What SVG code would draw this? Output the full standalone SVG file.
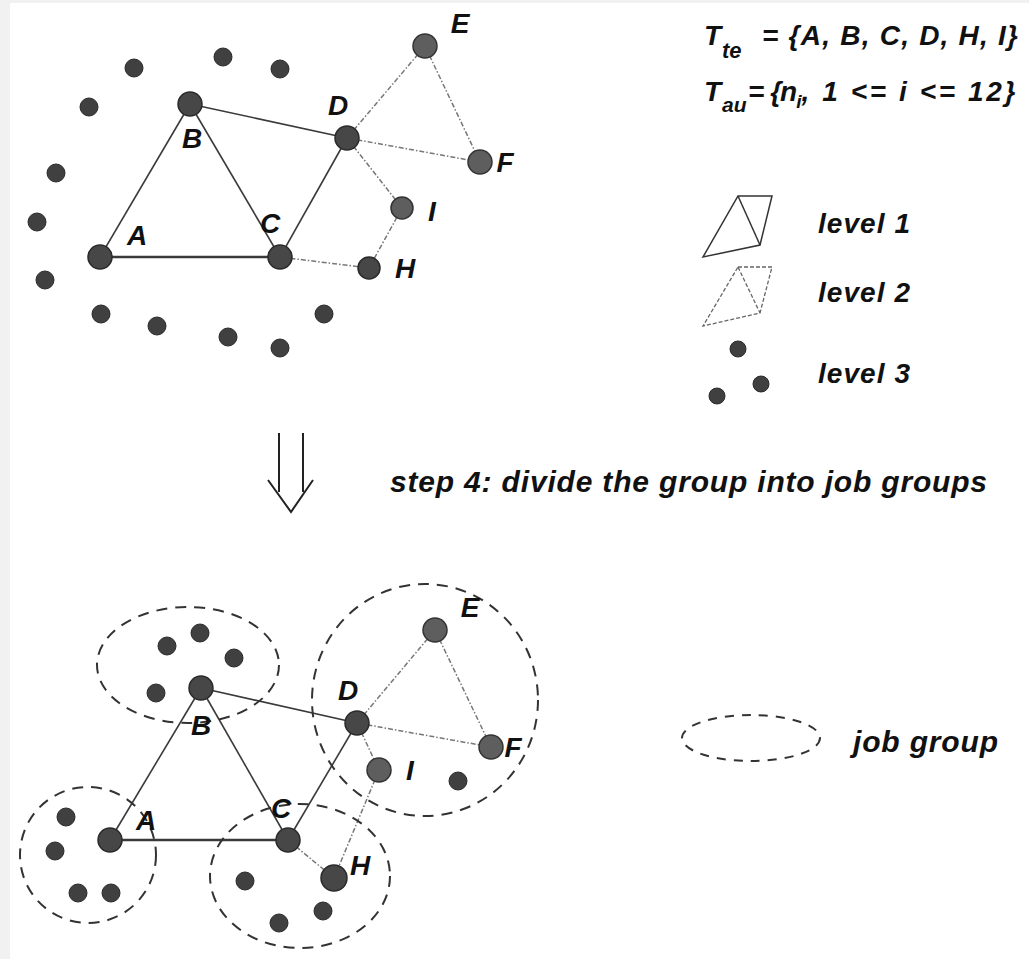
<svg xmlns="http://www.w3.org/2000/svg" width="1029" height="959" viewBox="0 0 1029 959">
<style>
.lbl{font-family:"Liberation Sans",Arial,sans-serif;font-style:italic;font-weight:bold;font-size:28px;fill:#111}
.n{fill:#474747;stroke:#2a2a2a;stroke-width:1.5}
.n2{fill:#5e5e5e;stroke:#333;stroke-width:1.5}
.d{fill:#404040;stroke:#2a2a2a;stroke-width:1}
.e1{stroke:#3a3a3a;stroke-width:1.6;fill:none}
.e2{stroke:#777;stroke-width:1.5;fill:none;stroke-dasharray:5 2 1.5 2}
.grp{fill:none;stroke:#333;stroke-width:2;stroke-dasharray:11 8}
.lg1{fill:none;stroke:#333;stroke-width:1.5}
.lg2{fill:none;stroke:#666;stroke-width:1.3;stroke-dasharray:4 2}
</style>
<rect width="1029" height="959" fill="#fff"/>
<rect x="0" y="0" width="10" height="959" fill="#f1f1f1"/>
<rect x="0" y="0" width="1029" height="3" fill="#f1f1f1"/>

<g id="connectors">
  <line class="e1" x1="100" y1="257" x2="190" y2="104"/>
  <line class="e1" x1="190" y1="104" x2="280" y2="257"/>
  <line class="e1" x1="100" y1="257" x2="280" y2="257" style="stroke-width:2.4"/>
  <line class="e1" x1="190" y1="104" x2="347" y2="138"/>
  <line class="e1" x1="280" y1="257" x2="347" y2="138"/>
  <line class="e2" x1="347" y1="138" x2="425" y2="46"/>
  <line class="e2" x1="425" y1="46" x2="480" y2="162"/>
  <line class="e2" x1="347" y1="138" x2="480" y2="162"/>
  <line class="e2" x1="347" y1="138" x2="402" y2="208"/>
  <line class="e2" x1="402" y1="208" x2="369" y2="268"/>
  <line class="e2" x1="280" y1="257" x2="369" y2="268"/>

  <line class="e1" x1="110" y1="840" x2="201" y2="688"/>
  <line class="e1" x1="201" y1="688" x2="288" y2="840"/>
  <line class="e1" x1="110" y1="840" x2="288" y2="840" style="stroke-width:2.4"/>
  <line class="e1" x1="201" y1="688" x2="357" y2="723"/>
  <line class="e1" x1="288" y1="840" x2="357" y2="723"/>
  <line class="e2" x1="357" y1="723" x2="435" y2="630"/>
  <line class="e2" x1="435" y1="630" x2="491" y2="747"/>
  <line class="e2" x1="357" y1="723" x2="491" y2="747"/>
  <line class="e2" x1="357" y1="723" x2="379" y2="770"/>
  <line class="e2" x1="379" y1="770" x2="334" y2="878"/>
  <line class="e2" x1="288" y1="840" x2="334" y2="878"/>
</g>

<g id="top-level3">
  <circle class="d" cx="134" cy="68" r="9"/>
  <circle class="d" cx="223" cy="57" r="9"/>
  <circle class="d" cx="280" cy="69" r="9"/>
  <circle class="d" cx="89" cy="107" r="9"/>
  <circle class="d" cx="56" cy="173" r="9"/>
  <circle class="d" cx="37" cy="222" r="9"/>
  <circle class="d" cx="45" cy="280" r="9"/>
  <circle class="d" cx="101" cy="314" r="9"/>
  <circle class="d" cx="157" cy="326" r="9"/>
  <circle class="d" cx="228" cy="337" r="9"/>
  <circle class="d" cx="280" cy="348" r="9"/>
  <circle class="d" cx="324" cy="314" r="9"/>
</g>
<g id="top-A"><circle class="n" cx="100" cy="257" r="12"/><text class="lbl" x="137" y="245" text-anchor="middle">A</text></g>
<g id="top-B"><circle class="n" cx="190" cy="104" r="12"/><text class="lbl" x="192" y="148" text-anchor="middle">B</text></g>
<g id="top-C"><circle class="n" cx="280" cy="257" r="12"/><text class="lbl" x="270" y="233" text-anchor="middle">C</text></g>
<g id="top-D"><circle class="n" cx="347" cy="138" r="12"/><text class="lbl" x="338" y="115" text-anchor="middle">D</text></g>
<g id="top-E"><circle class="n2" cx="425" cy="46" r="12"/><text class="lbl" x="460" y="33" text-anchor="middle">E</text></g>
<g id="top-F"><circle class="n2" cx="480" cy="162" r="12"/><text class="lbl" x="505" y="172" text-anchor="middle">F</text></g>
<g id="top-I"><circle class="n2" cx="402" cy="208" r="11"/><text class="lbl" x="432" y="221" text-anchor="middle">I</text></g>
<g id="top-H"><circle class="n" cx="369" cy="268" r="11"/><text class="lbl" x="405" y="278" text-anchor="middle">H</text></g>

<g id="sets">
  <text class="lbl" x="704" y="45">T</text>
  <text class="lbl" x="722" y="58" style="font-size:22px">te</text>
  <text class="lbl" x="762" y="45" textLength="256">= {A, B, C, D, H, I}</text>
  <text class="lbl" x="704" y="101">T</text>
  <text class="lbl" x="722" y="112" style="font-size:21px">au</text>
  <text class="lbl" x="748" y="101" style="letter-spacing:-1px">= {n<tspan dy="7" style="font-size:19px;letter-spacing:0">i</tspan><tspan dy="-7" style="letter-spacing:2.6px">, 1 &lt;= i &lt;= 12}</tspan></text>
</g>

<g id="legend-level1">
  <polygon class="lg1" points="738,196 772,196 760,245 703,257"/>
  <line class="lg1" x1="738" y1="196" x2="760" y2="245"/>
  <text class="lbl" x="818" y="233" textLength="92">level 1</text>
</g>
<g id="legend-level2">
  <polygon class="lg2" points="738,267 772,267 760,313 703,326"/>
  <line class="lg2" x1="738" y1="267" x2="760" y2="313"/>
  <text class="lbl" x="818" y="302" textLength="92">level 2</text>
</g>
<g id="legend-level3">
  <circle class="d" cx="738" cy="349" r="8"/>
  <circle class="d" cx="761" cy="384" r="8"/>
  <circle class="d" cx="717" cy="396" r="8"/>
  <text class="lbl" x="818" y="383" textLength="92">level 3</text>
</g>

<g id="step-arrow">
  <line x1="279" y1="433" x2="279" y2="492" stroke="#222" stroke-width="2"/>
  <line x1="303" y1="433" x2="303" y2="492" stroke="#222" stroke-width="2"/>
  <polyline points="268,480 291,512 313,480" fill="none" stroke="#222" stroke-width="2"/>
  <text class="lbl" x="390" y="492" style="font-size:30px" textLength="597">step 4: divide the group into job groups</text>
</g>

<g id="job-groups">
  <ellipse class="grp" cx="188" cy="665" rx="91" ry="58"/>
  <ellipse class="grp" cx="425" cy="700" rx="113" ry="116"/>
  <ellipse class="grp" cx="88" cy="855" rx="68" ry="68"/>
  <ellipse class="grp" cx="300" cy="876" rx="90" ry="72"/>
</g>

<g id="low-level3">
  <circle class="d" cx="167" cy="646" r="9"/>
  <circle class="d" cx="200" cy="633" r="9"/>
  <circle class="d" cx="234" cy="658" r="9"/>
  <circle class="d" cx="156" cy="693" r="9"/>
  <circle class="d" cx="458" cy="781" r="9"/>
  <circle class="d" cx="66" cy="817" r="9"/>
  <circle class="d" cx="55" cy="851" r="9"/>
  <circle class="d" cx="78" cy="893" r="9"/>
  <circle class="d" cx="111" cy="893" r="9"/>
  <circle class="d" cx="245" cy="881" r="9"/>
  <circle class="d" cx="279" cy="923" r="9"/>
  <circle class="d" cx="323" cy="911" r="9"/>
</g>
<g id="low-A"><circle class="n" cx="110" cy="840" r="12"/><text class="lbl" x="146" y="830" text-anchor="middle">A</text></g>
<g id="low-B"><circle class="n" cx="201" cy="688" r="12"/><text class="lbl" x="201" y="735" text-anchor="middle">B</text></g>
<g id="low-C"><circle class="n" cx="288" cy="840" r="12"/><text class="lbl" x="281" y="818" text-anchor="middle">C</text></g>
<g id="low-D"><circle class="n" cx="357" cy="723" r="12"/><text class="lbl" x="348" y="700" text-anchor="middle">D</text></g>
<g id="low-E"><circle class="n2" cx="435" cy="630" r="12"/><text class="lbl" x="470" y="617" text-anchor="middle">E</text></g>
<g id="low-F"><circle class="n2" cx="491" cy="747" r="12"/><text class="lbl" x="513" y="757" text-anchor="middle">F</text></g>
<g id="low-I"><circle class="n2" cx="379" cy="770" r="12"/><text class="lbl" x="410" y="780" text-anchor="middle">I</text></g>
<g id="low-H"><circle class="n" cx="334" cy="878" r="13"/><text class="lbl" x="360" y="875" text-anchor="middle">H</text></g>

<g id="legend-jobgroup">
  <ellipse class="grp" cx="751" cy="738" rx="69" ry="23" style="stroke-dasharray:9 8"/>
  <text class="lbl" x="853" y="752" style="font-size:30px" textLength="145">job group</text>
</g>
</svg>
